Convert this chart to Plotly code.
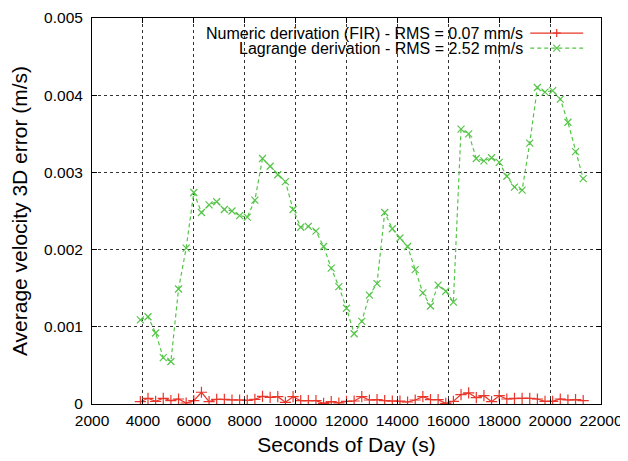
import plotly.graph_objects as go

seconds = [3900, 4200, 4500, 4800, 5100, 5400, 5700, 6000, 6300, 6600,
           6900, 7200, 7500, 7800, 8100, 8400, 8700, 9000, 9300, 9600,
           9900, 10200, 10500, 10800, 11100, 11400, 11700, 12000, 12300, 12600,
           12900, 13200, 13500, 13800, 14100, 14400, 14700, 15000, 15300, 15600,
           15900, 16200, 16500, 16800, 17100, 17400, 17700, 18000, 18300, 18600,
           18900, 19200, 19500, 19800, 20100, 20400, 20700, 21000, 21300]

fir_err = [0.000030, 0.000074, 0.000035, 0.000074, 0.000043, 0.000065, 0.000013, 0.000043, 0.000152, 0.000030,
           0.000061, 0.000061, 0.000052, 0.000052, 0.000048, 0.000061, 0.000100, 0.000087, 0.000095, 0.000022,
           0.000095, 0.000043, 0.000043, 0.000043, 0.000009, 0.000030, 0.000013, 0.000035, 0.000039, 0.000095,
           0.000052, 0.000056, 0.000043, 0.000039, 0.000039, 0.000026, 0.000052, 0.000095, 0.000056, 0.000056,
           0.000009, 0.000035, 0.000121, 0.000143, 0.000082, 0.000108, 0.000030, 0.000108, 0.000065, 0.000074,
           0.000074, 0.000074, 0.000065, 0.000035, 0.000035, 0.000065, 0.000052, 0.000056, 0.000043]

lagrange_err = [0.00109, 0.00113, 0.00092, 0.00060, 0.00055, 0.00149, 0.00202, 0.00274, 0.00248, 0.00258,
                0.00262, 0.00252, 0.00250, 0.00244, 0.00242, 0.00264, 0.00318, 0.00308, 0.00297, 0.00288,
                0.00252, 0.00229, 0.00230, 0.00224, 0.00204, 0.00176, 0.00152, 0.00124, 0.00091, 0.00107,
                0.00141, 0.00156, 0.00248, 0.00227, 0.00215, 0.00204, 0.00174, 0.00144, 0.00127, 0.00154,
                0.00146, 0.00132, 0.00356, 0.00350, 0.00318, 0.00315, 0.00319, 0.00313, 0.00295, 0.00281,
                0.00277, 0.00338, 0.00410, 0.00404, 0.00406, 0.00395, 0.00365, 0.00327, 0.00292]

legend_labels = ["Numeric derivation (FIR) - RMS = 0.07 mm/s",
                 "Lagrange derivation - RMS = 2.52 mm/s"]

x_ticks = [2000, 4000, 6000, 8000, 10000, 12000, 14000, 16000, 18000, 20000, 22000]
y_ticks = [0, 0.001, 0.002, 0.003, 0.004, 0.005]
y_tick_text = ["0", "0.001", "0.002", "0.003", "0.004", "0.005"]

RED = "#e8362a"
GREEN = "#55c548"
FONT = "Liberation Sans, Arial, Helvetica, sans-serif"

fig = go.Figure()
fig.add_trace(go.Scatter(
    x=seconds, y=fir_err, mode="lines+markers", name=legend_labels[0],
    line=dict(color=RED, width=1.2),
    marker=dict(symbol="cross-thin", size=8, line=dict(color=RED, width=1.2)),
    showlegend=False))
fig.add_trace(go.Scatter(
    x=seconds, y=lagrange_err, mode="lines+markers", name=legend_labels[1],
    line=dict(color=GREEN, width=1.2, dash="4px,3px"),
    marker=dict(symbol="x-thin", size=7, line=dict(color=GREEN, width=1.2)),
    showlegend=False))

# opaque key area (hides grid behind the key, as gnuplot does)
fig.add_shape(type="rect", xref="paper", yref="paper", x0=0, x1=1, y0=0.897, y1=1,
              fillcolor="white", line=dict(width=0), layer="between")

# custom gnuplot-style legend (text right-aligned, sample to the right)
PX = 1 / 508.0   # one pixel in paper x
PY = 1 / 385.5   # one pixel in paper y
rows = [(0.961, RED, "solid", "plus"), (0.922, GREEN, "4px,3px", "cross")]
mx = 0.913
for label, (yy, col, dash, sym) in zip(legend_labels, rows):
    fig.add_annotation(xref="paper", yref="paper", x=0.851, y=yy, text=label,
                       showarrow=False, xanchor="right", yanchor="middle",
                       font=dict(family=FONT, size=16, color="black"))
    fig.add_shape(type="line", xref="paper", yref="paper", x0=0.861, x1=0.965,
                  y0=yy, y1=yy, line=dict(color=col, width=1.2, dash=dash))
    if sym == "plus":
        segs = [(-4, 0, 4, 0), (0, -4, 0, 4)]
    else:
        segs = [(-3.5, -3.5, 3.5, 3.5), (-3.5, 3.5, 3.5, -3.5)]
    for (a, b, c, d) in segs:
        fig.add_shape(type="line", xref="paper", yref="paper",
                      x0=mx + a * PX, y0=yy + b * PY, x1=mx + c * PX, y1=yy + d * PY,
                      line=dict(color=col, width=1.2))

axis_common = dict(
    showline=True, linecolor="black", linewidth=1, mirror="ticks",
    ticks="inside", ticklen=5, tickcolor="black", tickwidth=1,
    showgrid=True, gridcolor="#333333", gridwidth=1, griddash="dot",
    zeroline=False, automargin=False,
    tickfont=dict(family=FONT, size=15.5, color="black"),
)

# the page body has an 8px margin, so the figure is sized to fit the window
fig.update_layout(
    width=620, height=453,
    margin=dict(l=84, r=27, t=10, b=57),
    paper_bgcolor="white", plot_bgcolor="white",
    font=dict(family=FONT, color="black"),
    xaxis=dict(range=[2000, 22000], tickvals=x_ticks,
               ticktext=[str(v) for v in x_ticks],
               ticklabelstandoff=2,
               title=dict(text="Seconds of Day (s)", font=dict(family=FONT, size=21), standoff=9),
               **axis_common),
    yaxis=dict(range=[0, 0.005], tickvals=y_ticks, ticktext=y_tick_text,
               ticklabelstandoff=5,
               title=dict(text="Average velocity 3D error (m/s)", font=dict(family=FONT, size=21), standoff=10),
               **axis_common),
)

fig.write_html("out.html")
